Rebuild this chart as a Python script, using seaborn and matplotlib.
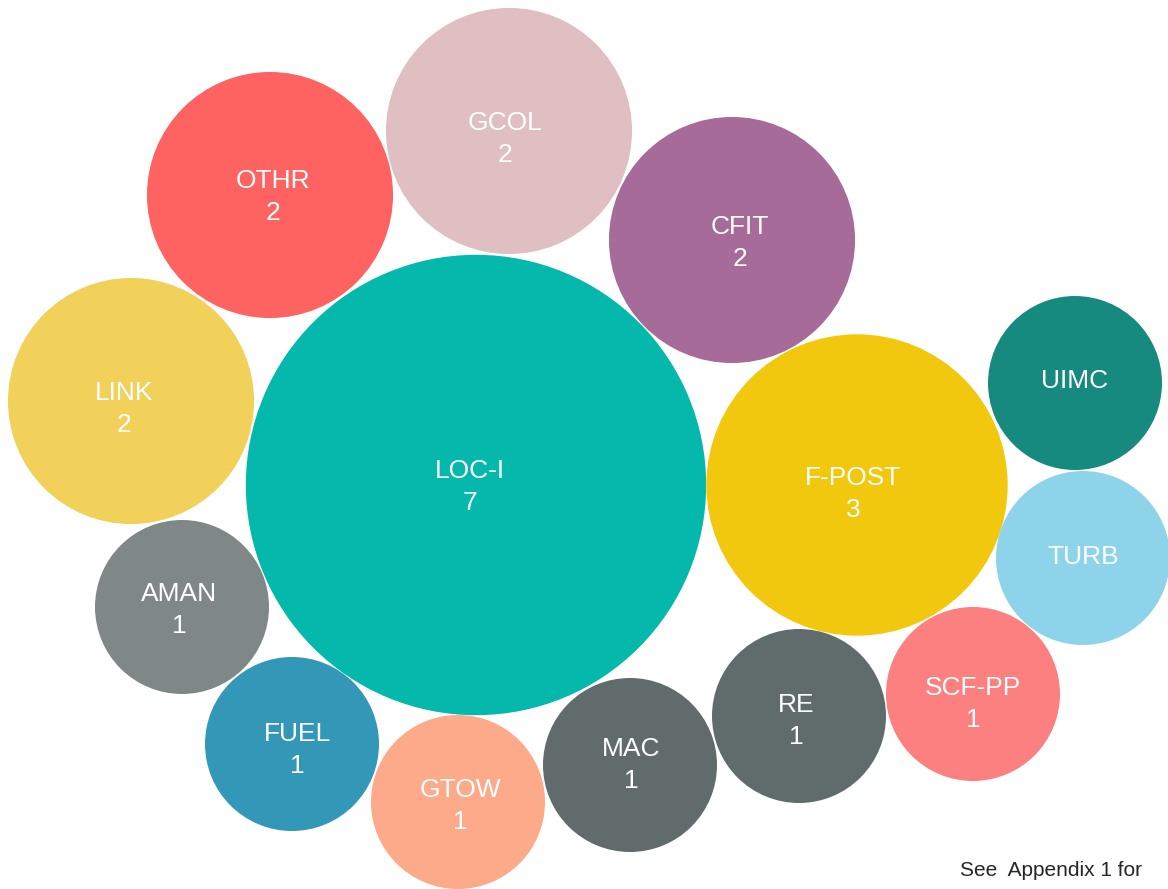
import pandas as pd
import matplotlib
matplotlib.use("Agg")
import matplotlib.pyplot as plt
import seaborn as sns

sns.set_theme(style="white")
plt.rcParams['font.family'] = ['Liberation Sans', 'DejaVu Sans']

# --- data: occurrence categories and counts ---
labels = ["LOC-I", "F-POST", "CFIT", "GCOL", "OTHR", "LINK", "AMAN",
          "FUEL", "GTOW", "MAC", "RE", "SCF-PP", "TURB", "UIMC"]
counts = [7, 3, 2, 2, 2, 2, 1, 1, 1, 1, 1, 1, 1, 1]
show_count = [True] * 12 + [False, False]
colors = ["#04B8AC", "#F1C80E", "#A66B99", "#DFBFC1", "#FF6361", "#F2D15A",
          "#7F8886", "#3397B7", "#FDAA8A", "#626B6B", "#606B6B", "#FC8080",
          "#8DD4EB", "#178A80"]

# --- packed layout (pixel positions of bubble centres and their labels) ---
bubble_x = [476, 857, 732, 509, 270, 131, 182, 292, 458, 630, 799, 973, 1083, 1075]
bubble_y = [485, 485, 240, 131, 195, 401, 607, 744, 802, 765, 716, 694, 558, 383]
text_x = [470, 853, 740, 505, 273, 124, 179, 297, 460, 631, 796, 973, 1083, 1075]
text_y = [487, 494, 243, 139, 197, 409, 610, 750, 806, 765, 721, 704, 557, 381]

df = pd.DataFrame({"label": labels, "count": counts, "x": bubble_x, "y": bubble_y})

W, H, DPI = 1168, 889, 100
fig = plt.figure(figsize=(W / DPI, H / DPI), dpi=DPI)
ax = fig.add_axes([0, 0, 1, 1])

# area proportional to count; radius 87 px for a count of 1
r1_pt = 87 * 72 / DPI
s1 = (2 * r1_pt) ** 2
sns.scatterplot(data=df, x="x", y="y", hue="label", size="count",
                palette=dict(zip(labels, colors)),
                sizes=(s1, s1 * 7), size_norm=(1, 7),
                linewidth=0, alpha=1, legend=False, ax=ax)

for lab, c, show, x, y in zip(labels, counts, show_count, text_x, text_y):
    if show:
        ax.text(x, y - 16, lab, color="white", fontsize=19, ha="center", va="center")
        ax.text(x, y + 16, str(c), color="white", fontsize=19, ha="center", va="center")
    else:
        ax.text(x, y, lab, color="white", fontsize=19, ha="center", va="center")

ax.text(1142, 871, "See  Appendix 1 for", color="#262626", fontsize=15,
        ha="right", va="center")

ax.set_xlim(0, W)
ax.set_ylim(H, 0)
ax.axis("off")

fig.savefig("out.png", dpi=DPI)
